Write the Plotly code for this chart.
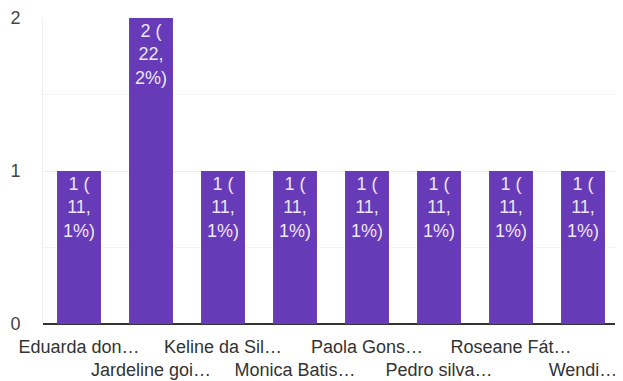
import plotly.graph_objects as go

categories = ["Eduarda don…", "Jardeline goi…", "Keline da Sil…", "Monica Batis…",
              "Paola Gons…", "Pedro silva…", "Roseane Fát…", "Wendi…"]
counts = [1, 2, 1, 1, 1, 1, 1, 1]
percent_labels = ["11,1%", "22,2%", "11,1%", "11,1%", "11,1%", "11,1%", "11,1%", "11,1%"]

bar_text = []
for c, p in zip(counts, percent_labels):
    a, b = p.split(",")
    bar_text.append(f"{c} (<br>{a},<br>{b})")

tick_text = [lab if i % 2 == 0 else "<br>" + lab for i, lab in enumerate(categories)]

FONT = "Arial, 'Liberation Sans', sans-serif"

fig = go.Figure(go.Bar(
    x=list(range(len(categories))),
    y=counts,
    text=bar_text,
    textposition="inside",
    insidetextanchor="end",
    textangle=0,
    textfont=dict(color="#ece6f7", size=18, family=FONT),
    marker=dict(color="#673ab7", line=dict(width=0)),
    width=0.61,
    hoverinfo="skip",
))

# page body has an 8px default margin; figure size/margins compensate for it
fig.update_layout(
    width=615, height=373,
    margin=dict(l=35, r=4, t=10, b=57),
    paper_bgcolor="white", plot_bgcolor="white",
    showlegend=False,
    font=dict(family=FONT, color="#333333", size=18),
    uniformtext=dict(mode=False),
)
fig.update_xaxes(
    tickmode="array",
    tickvals=list(range(len(categories))),
    ticktext=tick_text,
    tickangle=0,
    range=[-0.5, len(categories) - 0.5],
    showgrid=False,
    ticks="",
    automargin=False,
    ticklabelstandoff=10,
    tickfont=dict(size=18, color="#333333", family=FONT),
)
fig.update_yaxes(
    range=[0, 2],
    tickvals=[0, 1, 2],
    ticktext=["0", "1", "2"],
    showgrid=True, gridcolor="#ececec", gridwidth=1,
    minor=dict(tickvals=[0.5, 1.5], showgrid=True, gridcolor="#f3f3f3", gridwidth=1),
    zeroline=True, zerolinecolor="#333333", zerolinewidth=2,
    showline=True, linecolor="#f0f0f0", linewidth=1, mirror=True,
    automargin=False,
    tickfont=dict(size=18, color="#444444", family=FONT),
    ticklabelstandoff=18,
)

fig.write_html("out.html")
